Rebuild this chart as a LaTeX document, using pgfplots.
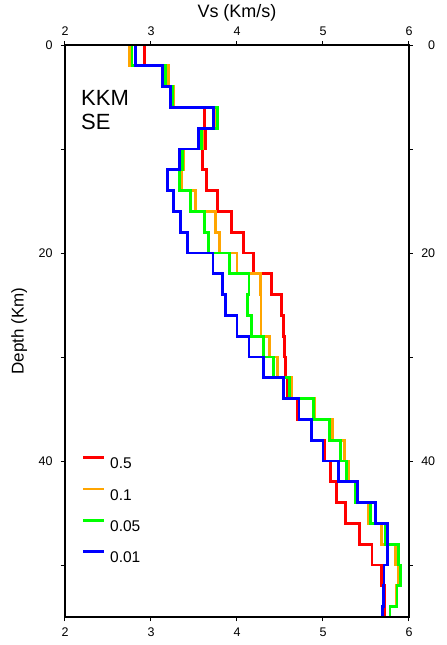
\documentclass[border=0pt]{standalone}
\usepackage{pgfplots}
\pgfplotsset{compat=1.18}
\usepackage{pgfplotstable}
\usepackage{fontspec}
\setmainfont{Liberation Sans}
\definecolor{cred}{RGB}{255,0,0}
\definecolor{corange}{RGB}{255,165,0}
\definecolor{cgreen}{RGB}{0,255,0}
\definecolor{cblue}{RGB}{0,0,255}
\pgfplotstableread{
d r o g b
0 2.92 2.75 2.78 2.82
2 2.92 2.75 2.78 2.82
2 3.20 3.20 3.17 3.13
4 3.20 3.20 3.17 3.13
4 3.26 3.26 3.25 3.23
6 3.26 3.26 3.25 3.23
6 3.62 3.75 3.77 3.73
8 3.62 3.75 3.77 3.73
8 3.63 3.60 3.59 3.55
10 3.63 3.60 3.59 3.55
10 3.60 3.38 3.37 3.33
12 3.60 3.38 3.37 3.33
12 3.65 3.36 3.33 3.19
14 3.65 3.36 3.33 3.19
14 3.77 3.52 3.46 3.26
16 3.77 3.52 3.46 3.26
16 3.94 3.75 3.62 3.34
18 3.94 3.75 3.62 3.34
18 4.08 3.80 3.67 3.42
20 4.08 3.80 3.67 3.42
20 4.19 4.00 3.91 3.72
22 4.19 4.00 3.91 3.72
22 4.40 4.27 4.14 3.83
24 4.40 4.27 4.14 3.83
24 4.52 4.28 4.12 3.87
26 4.52 4.28 4.12 3.87
26 4.54 4.28 4.17 4.00
28 4.54 4.28 4.17 4.00
28 4.55 4.38 4.31 4.14
30 4.55 4.38 4.31 4.14
30 4.56 4.47 4.42 4.31
32 4.56 4.47 4.42 4.31
32 4.59 4.63 4.61 4.54
34 4.59 4.63 4.61 4.54
34 4.70 4.90 4.89 4.72
36 4.70 4.90 4.89 4.72
36 4.87 5.11 5.08 4.87
38 4.87 5.11 5.08 4.87
38 5.02 5.25 5.20 5.00
40 5.02 5.25 5.20 5.00
40 5.09 5.30 5.27 5.18
42 5.09 5.30 5.27 5.18
42 5.16 5.39 5.38 5.40
44 5.16 5.39 5.38 5.40
44 5.26 5.53 5.55 5.61
46 5.26 5.53 5.55 5.61
46 5.42 5.68 5.73 5.75
48 5.42 5.68 5.73 5.75
48 5.57 5.84 5.88 5.75
50 5.57 5.84 5.88 5.75
50 5.68 5.88 5.90 5.71
52 5.68 5.88 5.90 5.71
52 5.72 5.85 5.86 5.70
54 5.72 5.85 5.86 5.70
54 5.72 5.78 5.78 5.69
55 5.72 5.78 5.78 5.69
}\vs
\pgfplotsset{common/.style={
  scale only axis, width=344pt, height=572pt,
  xmin=2, xmax=6, ymin=0, ymax=55, y dir=reverse,
  xtick={2,3,4,5,6}, ytick={0,20,40}, minor ytick={10,30,50},
  tick align=outside, major tick length=4pt, minor tick length=4pt,
  every tick/.style={black, line width=1pt},
  axis line style={line width=1.4pt},
  tick label style={font=\fontsize{12.5}{14}\selectfont},
  /pgf/number format/assume math mode=true,
}}
\begin{document}
\begin{tikzpicture}
\begin{axis}[common, name=ax, xticklabel pos=left, yticklabel pos=left,
  xticklabel style={yshift=-3pt},
  yticklabel style={xshift=-5pt},
  ylabel={Depth (Km)},
  ylabel style={font=\fontsize{17}{20}\selectfont, at={(axis description cs:-0.133,0.5)}, anchor=center},
  legend style={draw=none, fill=none, at={(axis description cs:0.049,0.281)}, anchor=north west,
    inner sep=0pt, outer sep=0pt, row sep=19pt, font=\fontsize{15.5}{18}\selectfont,
    nodes={inner sep=0pt, text height=11pt, text depth=0pt},
    /tikz/every odd column/.append style={column sep=4.5pt}},
  legend image code/.code={\draw[#1] (0pt,5.5pt) -- (21pt,5.5pt);},
  legend cell align=left,
]
\addplot[cred, line width=2.8pt] table[x=r, y=d] {\vs};
\addlegendentry{0.5}
\addplot[corange, line width=2.8pt] table[x=o, y=d] {\vs};
\addlegendentry{0.1}
\addplot[cgreen, line width=2.8pt] table[x=g, y=d] {\vs};
\addlegendentry{0.05}
\addplot[cblue, line width=2.8pt] table[x=b, y=d] {\vs};
\addlegendentry{0.01}
\node[anchor=north west, inner sep=0pt, align=left, font=\fontsize{22}{23.5}\selectfont]
  at (axis description cs:0.0465,0.921) {KKM\\SE};
\end{axis}
\begin{axis}[common, xticklabel pos=right, yticklabel pos=right,
  xticklabel style={yshift=2pt},
  title={Vs (Km/s)},
  title style={font=\fontsize{18}{21}\selectfont, at={(axis description cs:0.5,1)}, anchor=base, yshift=22pt, inner sep=0pt},
  yticklabel style={anchor=west, inner sep=0pt, text width=15pt, align=right, xshift=7pt},
]
\addplot[draw=none] coordinates {(2,0)};
\end{axis}
\pgfresetboundingbox
\path ([xshift=-65pt,yshift=-28pt]ax.south west) rectangle ([xshift=38pt,yshift=45pt]ax.north east);
\end{tikzpicture}
\end{document}
